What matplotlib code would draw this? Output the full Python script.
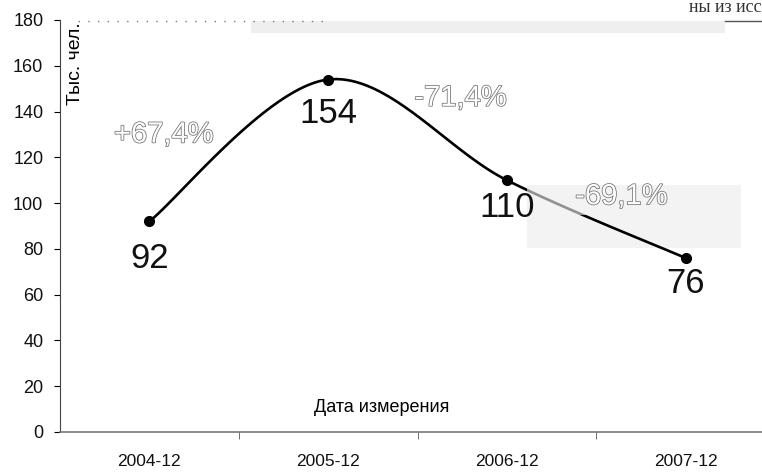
import numpy as np
import matplotlib.pyplot as plt
import matplotlib.patheffects as pe
from matplotlib.patches import Rectangle

plt.rcParams['font.family'] = ['Liberation Sans', 'DejaVu Sans']

# data
dates = ["2004-12", "2005-12", "2006-12", "2007-12"]
values = [92, 154, 110, 76]
changes = ["+67,4%", "-71,4%", "-69,1%"]
change_pos = [(0.08, 130), (1.74, 146), (2.64, 103)]


def smooth(xs, ys, sx=179.0, sy=2.29, n=40):
    # Excel-like smoothed line (Catmull-Rom bezier) in pixel-ish space
    p = np.column_stack([np.asarray(xs, float) * sx, np.asarray(ys, float) * sy])
    pts = np.vstack([p[0], p, p[-1]])
    out = []
    t = np.linspace(0, 1, n)[:, None]
    for i in range(1, len(pts) - 2):
        p0, p1, p2, p3 = pts[i - 1], pts[i], pts[i + 1], pts[i + 2]
        c1 = p1 + (p2 - p0) / 6
        c2 = p2 - (p3 - p1) / 6
        seg = ((1 - t) ** 3) * p1 + 3 * ((1 - t) ** 2) * t * c1 + 3 * (1 - t) * t ** 2 * c2 + t ** 3 * p2
        out.append(seg)
    out = np.vstack(out)
    return out[:, 0] / sx, out[:, 1] / sy


fig = plt.figure(figsize=(7.62, 4.72), dpi=100)
ax = fig.add_axes([60 / 762, 40 / 472, 715 / 762, 412 / 472])

x = np.arange(len(dates))
sx_, sy_ = smooth(x, values)
ax.plot(sx_, sy_, color='black', lw=1.9, zorder=3)
ax.plot(x, values, 'o', color='black', ms=7, zorder=4)

# scan artefacts: grey patch behind last label and faded band at top
ax.add_patch(Rectangle((2.11, 80.5), 1.2, 27.5, facecolor='#f3f3f3', edgecolor='none', zorder=1))
ax.add_patch(Rectangle((2.11, 95), 0.36, 13, facecolor='#f3f3f3', edgecolor='none', alpha=0.6, zorder=3.5))
ax.add_patch(Rectangle((0.57, 174.5), 2.65, 5, facecolor='#efefef', edgecolor='none', zorder=1, clip_on=False))
ax.plot([-0.4, 1.0], [179.5, 179.5], ls=(0, (1, 6)), color='#777777', lw=1, zorder=2, clip_on=False)
ax.plot([3.22, 3.5], [179.5, 179.5], color='#555555', lw=1, zorder=2, clip_on=False)

# value labels
offs = [-16, -15, -12, -11]
for xi, v, dy in zip(x, values, offs):
    ax.text(xi, v + dy, str(v), fontsize=25, ha='center', va='center', color='#111111', zorder=5)

# change labels (hollow outlined text)
for txt, (cx, cy) in zip(changes, change_pos):
    ax.text(cx, cy, txt, fontsize=21, ha='center', va='center', color='white', zorder=5,
            path_effects=[pe.Stroke(linewidth=1.1, foreground='#707070'), pe.Normal()])

ax.set_xlim(-0.5, 3.5)
ax.set_ylim(0, 180)
ax.set_yticks(range(0, 181, 20))
ax.set_yticklabels([str(v) for v in range(0, 181, 20)], fontsize=13, color='#111111')
ax.set_xticks(x)
ax.set_xticklabels(dates, fontsize=12.5, color='#111111')
ax.set_xticks([0.5, 1.5, 2.5], minor=True)
ax.tick_params(axis='x', which='major', length=0, pad=16)
ax.tick_params(axis='x', which='minor', length=5, direction='out', color='#555555')
ax.tick_params(axis='y', length=4, width=0.8, pad=8)

for s in ['top', 'right']:
    ax.spines[s].set_visible(False)
ax.spines['left'].set_color('#444444')
ax.spines['bottom'].set_color('#777777')
ax.spines['bottom'].set_linewidth(1.2)

fig.text(75 / 762, 1 - 22 / 472, "Тыс. чел.", rotation=90, fontsize=14, ha='center', va='top')
fig.text(382 / 762, 1 - 408 / 472, "Дата измерения", fontsize=13, ha='center', va='center')
fig.text(1.0, 1 - 8 / 472, "ны из исс", fontsize=13, ha='right', va='center',
         family='Liberation Serif', color='#333333')

fig.savefig('out.png', dpi=100)
